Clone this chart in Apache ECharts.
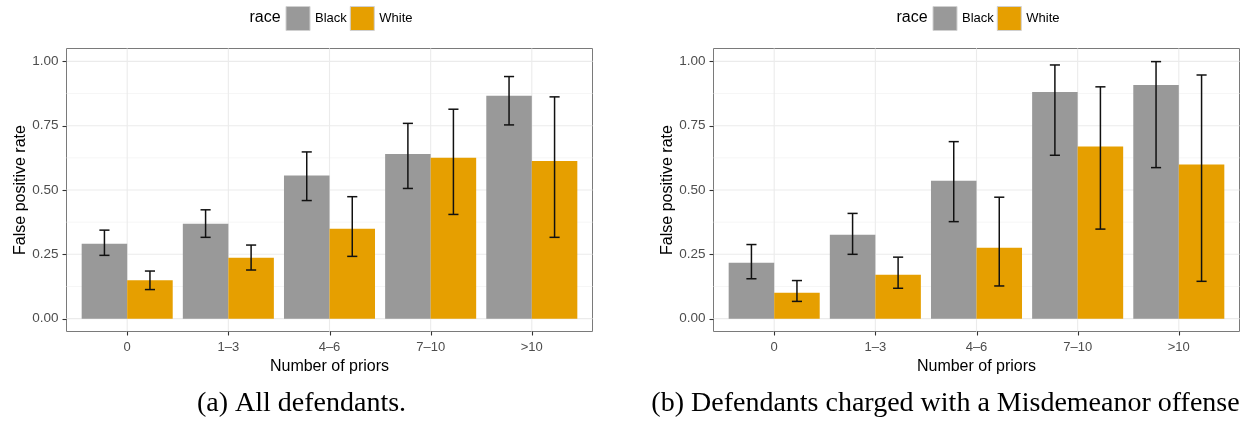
<!DOCTYPE html>
<html><head><meta charset="utf-8">
<script src="https://cdn.jsdelivr.net/npm/echarts@6/dist/echarts.min.js"></script>
<style>html,body{margin:0;padding:0;background:#fff}#c{width:1242px;height:423px}</style>
</head><body><div id="c"></div>
<script>
const CATEGORIES = ['0', '1\u20133', '4\u20136', '7\u201310', '>10'];
const Y_TICKS = [0, 0.25, 0.5, 0.75, 1];
const Y_MINOR = [0.125, 0.375, 0.625, 0.875];
const GROUPS = ['Black', 'White'];
// Panel (a): all defendants
const A_BLACK    = [0.291, 0.369, 0.556, 0.640, 0.866];
const A_BLACK_LO = [0.246, 0.316, 0.459, 0.506, 0.753];
const A_BLACK_HI = [0.344, 0.423, 0.648, 0.759, 0.941];
const A_WHITE    = [0.149, 0.237, 0.349, 0.625, 0.613];
const A_WHITE_LO = [0.113, 0.189, 0.242, 0.405, 0.316];
const A_WHITE_HI = [0.185, 0.286, 0.474, 0.814, 0.862];
// Panel (b): misdemeanor offense
const B_BLACK    = [0.217, 0.326, 0.536, 0.881, 0.908];
const B_BLACK_LO = [0.155, 0.250, 0.377, 0.635, 0.587];
const B_BLACK_HI = [0.288, 0.409, 0.688, 0.986, 0.999];
const B_WHITE    = [0.101, 0.171, 0.276, 0.669, 0.599];
const B_WHITE_LO = [0.067, 0.118, 0.127, 0.348, 0.145];
const B_WHITE_HI = [0.148, 0.239, 0.472, 0.901, 0.947];
const CAPTIONS = ['(a) All defendants.', '(b) Defendants charged with a Misdemeanor offense'];

const COLORS = {Black: '#999999', White: '#E69F00'};
const BAR_W = 0.45, CAP_W = 0.1;
const OFFSETS = {Black: -0.225, White: 0.225};
const SANS = '"Liberation Sans", Arial, Helvetica, sans-serif';
const SERIF = '"Liberation Serif", "Times New Roman", serif';
const TICK_LEN = 4;

const chart = echarts.init(document.getElementById('c'), null, {renderer: 'canvas'});

const GRIDS = [
  {left: 66.5, top: 48.5, width: 526, height: 283},
  {left: 713.5, top: 48.5, width: 526, height: 283}
];
const CAPTION_X = [301.5, 945.5];

function barRender(offset) {
  return function (params, api) {
    const x = api.value(0) + offset, v = api.value(1);
    const w = api.size([BAR_W, 0])[0];
    const p0 = api.coord([x, 0]), p1 = api.coord([x, v]);
    return {type: 'rect', shape: {x: p0[0] - w / 2, y: p1[1], width: w, height: p0[1] - p1[1]},
      style: {fill: api.visual('color')}};
  };
}
function errRender(offset) {
  return function (params, api) {
    const x = api.value(0) + offset;
    const lo = api.coord([x, api.value(1)]), hi = api.coord([x, api.value(2)]);
    const cw = api.size([CAP_W, 0])[0] / 2;
    const st = {stroke: '#111', lineWidth: 1.5};
    return {type: 'group', children: [
      {type: 'line', shape: {x1: lo[0], y1: lo[1], x2: hi[0], y2: hi[1]}, style: st},
      {type: 'line', shape: {x1: lo[0] - cw, y1: lo[1], x2: lo[0] + cw, y2: lo[1]}, style: st},
      {type: 'line', shape: {x1: hi[0] - cw, y1: hi[1], x2: hi[0] + cw, y2: hi[1]}, style: st}
    ]};
  };
}
function hLineRender(color, width) {
  return function (params, api) {
    const cs = params.coordSys;
    const y = api.coord([0, api.value(1)])[1];
    return {type: 'line', shape: {x1: cs.x, y1: y, x2: cs.x + cs.width, y2: y}, style: {stroke: color, lineWidth: width}};
  };
}
function vLineRender(color, width) {
  return function (params, api) {
    const cs = params.coordSys;
    const x = api.coord([api.value(0), 0])[0];
    return {type: 'line', shape: {x1: x, y1: cs.y, x2: x, y2: cs.y + cs.height}, style: {stroke: color, lineWidth: width}};
  };
}
function yTickRender(params, api) {
  const cs = params.coordSys;
  const y = Math.round(api.coord([0, api.value(1)])[1]) + 0.5;
  return {type: 'line', shape: {x1: cs.x - TICK_LEN, y1: y, x2: cs.x, y2: y}, style: {stroke: '#333', lineWidth: 1.1}};
}
function xTickRender(params, api) {
  const cs = params.coordSys;
  const x = Math.round(api.coord([api.value(0), 0])[0]) + 0.5;
  const yb = cs.y + cs.height;
  return {type: 'line', shape: {x1: x, y1: yb, x2: x, y2: yb + TICK_LEN}, style: {stroke: '#333', lineWidth: 1.1}};
}

const panels = [
  {Black: [A_BLACK, A_BLACK_LO, A_BLACK_HI], White: [A_WHITE, A_WHITE_LO, A_WHITE_HI]},
  {Black: [B_BLACK, B_BLACK_LO, B_BLACK_HI], White: [B_WHITE, B_WHITE_LO, B_WHITE_HI]}
];

const grid = [], xAxis = [], yAxis = [], series = [], legend = [], graphic = [];
const catIdx = CATEGORIES.map((c, i) => i);
const AXIS_LINE = {show: false, onZero: false};

GRIDS.forEach((g, gi) => {
  grid.push(Object.assign({show: true, borderColor: '#7a7a7a', borderWidth: 1, backgroundColor: 'transparent', containLabel: false}, g));
  xAxis.push({
    type: 'value', gridIndex: gi, min: -0.6, max: 4.6, position: 'bottom',
    axisLine: AXIS_LINE, splitLine: {show: false}, axisTick: {show: false},
    axisLabel: {customValues: catIdx, formatter: v => CATEGORIES[Math.round(v)], margin: 9,
      fontSize: 13, color: '#4d4d4d', fontFamily: SANS},
    name: 'Number of priors', nameLocation: 'middle', nameGap: 22,
    nameTextStyle: {fontSize: 16, color: '#000', fontFamily: SANS}
  });
  yAxis.push({
    type: 'value', gridIndex: gi, min: -0.05, max: 1.05, position: 'left',
    axisLine: AXIS_LINE, splitLine: {show: false}, axisTick: {show: false},
    axisLabel: {customValues: Y_TICKS, formatter: v => v.toFixed(2), margin: 8,
      fontSize: 13.5, color: '#4d4d4d', fontFamily: SANS},
    name: 'False positive rate', nameLocation: 'middle', nameGap: 38,
    nameTextStyle: {fontSize: 16, color: '#000', fontFamily: SANS}
  });
  const base = {xAxisIndex: gi, yAxisIndex: gi, silent: true, animation: false};
  series.push(Object.assign({type: 'custom', z: 1, renderItem: hLineRender('#f4f4f4', 0.8),
    data: Y_MINOR.map(v => [0, v])}, base));
  series.push(Object.assign({type: 'custom', z: 1, renderItem: hLineRender('#ebebeb', 1.1),
    data: Y_TICKS.map(v => [0, v])}, base));
  series.push(Object.assign({type: 'custom', z: 1, renderItem: vLineRender('#ebebeb', 1.1),
    data: catIdx.map(i => [i, 0])}, base));
  series.push(Object.assign({type: 'custom', z: 4, renderItem: yTickRender,
    data: Y_TICKS.map(v => [0, v])}, base));
  series.push(Object.assign({type: 'custom', z: 4, renderItem: xTickRender,
    data: catIdx.map(i => [i, 0])}, base));
  GROUPS.forEach(name => {
    const [vals] = panels[gi][name];
    series.push(Object.assign({type: 'custom', name: name, z: 2, renderItem: barRender(OFFSETS[name]),
      itemStyle: {color: COLORS[name]}, data: vals.map((v, i) => [i, v])}, base));
  });
  GROUPS.forEach(name => {
    const [vals, lo, hi] = panels[gi][name];
    series.push(Object.assign({type: 'custom', z: 3, renderItem: errRender(OFFSETS[name]),
      data: vals.map((v, i) => [i, lo[i], hi[i]])}, base));
  });
  const cx = g.left + g.width / 2;
  legend.push({
    data: GROUPS, left: cx - 44, top: 6, orient: 'horizontal', icon: 'rect',
    itemWidth: 24, itemHeight: 24, itemGap: 3, padding: 0, selectedMode: false,
    itemStyle: {borderColor: '#d0d0d0', borderWidth: 1},
    textStyle: {fontSize: 13, color: '#000', fontFamily: SANS}
  });
  graphic.push({type: 'text', left: cx - 80, top: 10,
    style: {text: 'race', fontSize: 16, fill: '#000', fontFamily: SANS}});
  graphic.push({type: 'text', x: CAPTION_X[gi], y: 404,
    style: {text: CAPTIONS[gi], fontSize: 28, fill: '#000', fontFamily: SERIF, textAlign: 'center', textVerticalAlign: 'middle'}});
});

chart.setOption({animation: false, grid, xAxis, yAxis, series, legend, graphic});
</script></body></html>
